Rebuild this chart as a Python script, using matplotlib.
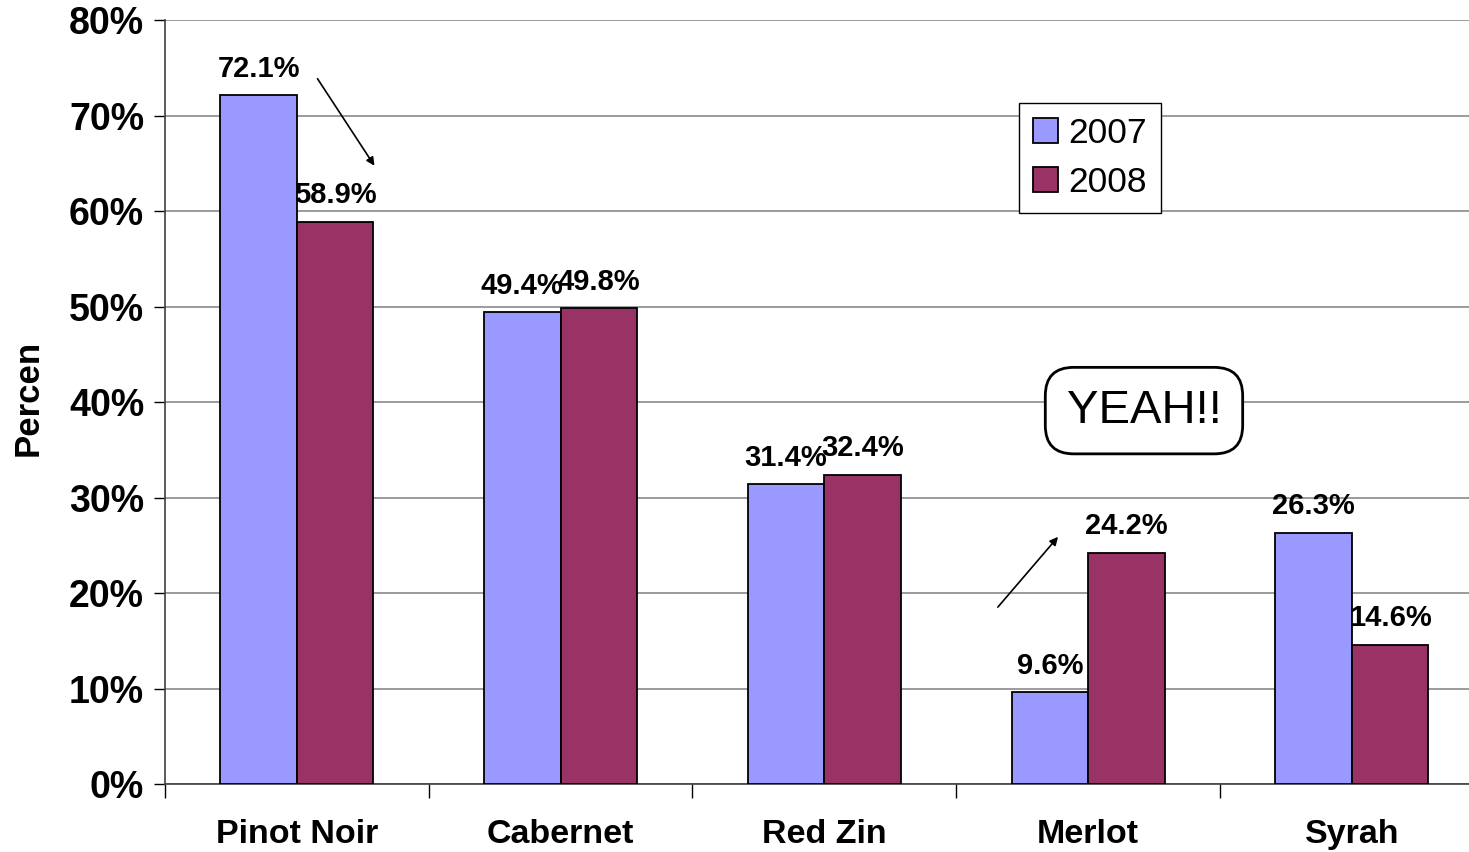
import matplotlib.pyplot as plt
import numpy as np

plt.rcParams['font.family'] = ['Liberation Sans', 'DejaVu Sans']

wines = ['Pinot Noir', 'Cabernet', 'Red Zin', 'Merlot', 'Syrah']
pct_2007 = [72.1, 49.4, 31.4, 9.6, 26.3]
pct_2008 = [58.9, 49.8, 32.4, 24.2, 14.6]
years = ['2007', '2008']
colors = ['#9999FF', '#993366']

fig = plt.figure(figsize=(14.69, 8.52), dpi=100)
ax = fig.add_axes([0.1123, 0.0798, 0.8977, 0.8967])

x = np.arange(len(wines)) + 0.5
w = 0.29
b1 = ax.bar(x - w / 2, pct_2007, w, color=colors[0], edgecolor='black', linewidth=1.3, label=years[0], zorder=3)
b2 = ax.bar(x + w / 2, pct_2008, w, color=colors[1], edgecolor='black', linewidth=1.3, label=years[1], zorder=3)

for bars, vals in [(b1, pct_2007), (b2, pct_2008)]:
    for r, v in zip(bars, vals):
        ax.annotate(f'{v}%', (r.get_x() + r.get_width() / 2, v), xytext=(0, 9),
                    textcoords='offset points', ha='center', va='bottom',
                    fontsize=21, fontweight='bold', zorder=5)

ax.set_xlim(0, 5)
ax.set_ylim(0, 80)
ax.set_yticks(np.arange(0, 81, 10))
ax.set_yticklabels([f'{t}%' for t in range(0, 81, 10)], fontsize=27, fontweight='bold')
ax.yaxis.grid(True, color='#808080', linewidth=1.1, zorder=0)
ax.tick_params(axis='y', length=8, width=1, pad=7)

# group boundary ticks + category labels in the middle
ax.set_xticks(np.arange(0, 6))
ax.set_xticklabels([])
ax.tick_params(axis='x', which='major', length=10, width=1)
ax.set_xticks(x, minor=True)
ax.set_xticklabels(wines, minor=True, fontsize=24.5, fontweight='bold')
ax.tick_params(axis='x', which='minor', length=0, pad=25)

for s in ['top', 'right']:
    ax.spines[s].set_visible(False)
for s in ['left', 'bottom']:
    ax.spines[s].set_color('#404040')
    ax.spines[s].set_linewidth(1.2)

fig.text(0.019, 0.533, 'Percen', rotation=90, fontsize=25, fontweight='bold', ha='center', va='center')

leg = ax.legend(loc='upper left', bbox_to_anchor=(0.6937, 0.879), bbox_transform=fig.transFigure,
                fontsize=25.5, fancybox=False, edgecolor='black', framealpha=1,
                handlelength=0.7, handleheight=0.7, handletextpad=0.3, labelspacing=0.45,
                borderpad=0.4, borderaxespad=0)
leg.get_frame().set_linewidth(1)

# arrows
ax.annotate('', xy=(0.80, 64.5), xytext=(0.5725, 74.1),
            arrowprops=dict(arrowstyle='-|>', color='black', lw=1.2, mutation_scale=12), zorder=6)
ax.annotate('', xy=(3.393, 26.1), xytext=(3.151, 18.3),
            arrowprops=dict(arrowstyle='-|>', color='black', lw=1.2, mutation_scale=12), zorder=6)

ax.text(3.712, 39.1, 'YEAH!!', fontsize=34, ha='center', va='center', zorder=6,
        bbox=dict(boxstyle='round,pad=0.45,rounding_size=0.6', facecolor='white', edgecolor='black', linewidth=2))

fig.savefig('out.png', dpi=100)
